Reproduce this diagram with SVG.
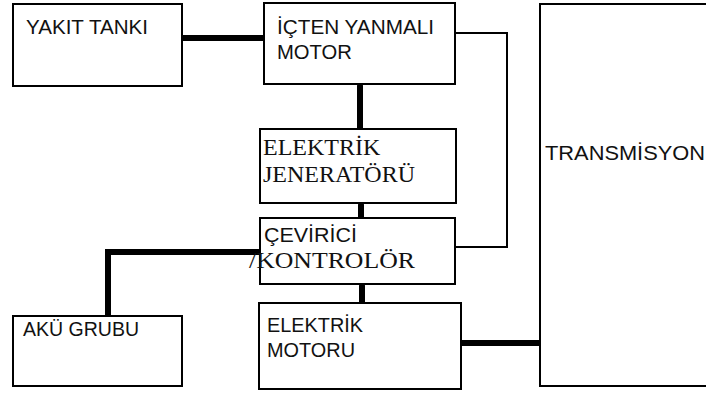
<svg xmlns="http://www.w3.org/2000/svg" width="706" height="396" viewBox="0 0 706 396">
<style>
.box{fill:#fff;stroke:#000;stroke-width:2}
.s{font-family:"Liberation Sans",Arial,sans-serif;font-size:21px;fill:#111}
.r{font-family:"Liberation Serif","Times New Roman",serif;font-size:24px;fill:#111}
.thick{fill:none;stroke:#000;stroke-width:6;stroke-linecap:round;stroke-linejoin:miter}
.thin{fill:none;stroke:#000;stroke-width:2}
</style>
<rect width="706" height="396" fill="#fff"/>
<g id="connectors">
<line class="thick" x1="180" y1="38" x2="265" y2="38"/>
<line class="thick" x1="360" y1="86" x2="360" y2="130"/>
<line class="thick" x1="361" y1="205" x2="361" y2="219"/>
<line class="thick" x1="362" y1="286" x2="362" y2="303"/>
<polyline class="thick" points="259,252 108,252 108,316"/>
<line class="thick" x1="461" y1="343" x2="546" y2="343"/>
<polyline class="thin" points="455,33 507,33 507,247 455,247"/>
</g>
<g id="yakit">
<rect class="box" x="13" y="4" width="169" height="82"/>
<text class="s" x="26" y="34" textLength="122" lengthAdjust="spacingAndGlyphs">YAKIT TANKI</text>
</g>
<g id="icten">
<rect class="box" x="264" y="3" width="191" height="81"/>
<text class="s" x="277" y="34" textLength="157" lengthAdjust="spacingAndGlyphs">İÇTEN YANMALI</text>
<text class="s" x="277" y="59" textLength="75" lengthAdjust="spacingAndGlyphs">MOTOR</text>
</g>
<g id="jenerator">
<rect class="box" x="260" y="129" width="196" height="74"/>
<text class="r" x="263" y="155">ELEKTRİK</text>
<text class="r" x="263" y="182">JENERATÖRÜ</text>
</g>
<g id="cevirici">
<rect class="box" x="260" y="218" width="195" height="66"/>
<text class="s" x="264" y="242" textLength="93" lengthAdjust="spacingAndGlyphs">ÇEVİRİCİ</text>
<text class="r" x="249" y="268" textLength="166" lengthAdjust="spacingAndGlyphs">/KONTROLÖR</text>
</g>
<g id="aku">
<rect class="box" x="13" y="316" width="169" height="70"/>
<text class="s" x="23" y="336" textLength="116" lengthAdjust="spacingAndGlyphs">AKÜ GRUBU</text>
</g>
<g id="motor">
<rect class="box" x="259" y="303" width="202" height="86"/>
<text class="s" x="267" y="332" textLength="96" lengthAdjust="spacingAndGlyphs">ELEKTRİK</text>
<text class="s" x="267" y="357" textLength="88" lengthAdjust="spacingAndGlyphs">MOTORU</text>
</g>
<g id="transmisyon">
<rect class="box" x="540" y="4" width="200" height="382"/>
<text class="s" x="545" y="160" textLength="160" lengthAdjust="spacingAndGlyphs">TRANSMİSYON</text>
</g>
</svg>
